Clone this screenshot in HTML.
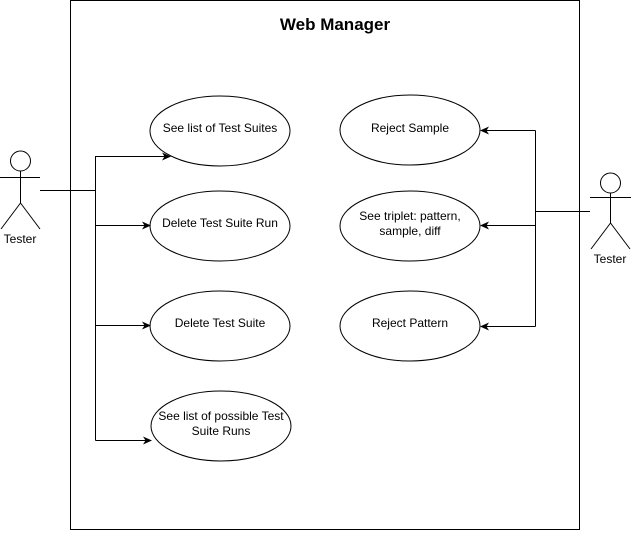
<!DOCTYPE html>
<html><head><meta charset="utf-8"><style>
html,body{margin:0;padding:0;background:#fff;}
svg{display:block;}
text{font-family:"Liberation Sans",Arial,sans-serif;font-size:12px;fill:#000;}
</style></head><body>
<svg width="632" height="534" viewBox="0 0 632 534" xmlns="http://www.w3.org/2000/svg">
<defs>
<marker id="a" markerWidth="10" markerHeight="10" refX="8" refY="4" orient="auto" markerUnits="userSpaceOnUse">
<path d="M0,0 L9,4 L0,8 L2.5,4 Z" fill="#000"/>
</marker>
</defs>
<rect x="70.5" y="0.5" width="509" height="529" fill="#fff" stroke="#000"/>
<text x="335" y="30" text-anchor="middle" style="font-size:17px;font-weight:bold">Web Manager</text>

<g fill="#fff" stroke="#000" stroke-width="1">
<ellipse cx="220" cy="131" rx="70" ry="35"/>
<ellipse cx="220" cy="226" rx="70" ry="35"/>
<ellipse cx="220" cy="326" rx="70" ry="35"/>
<ellipse cx="221" cy="426" rx="70" ry="35"/>
<ellipse cx="410" cy="130" rx="70" ry="35"/>
<ellipse cx="410" cy="226" rx="70" ry="35"/>
<ellipse cx="410" cy="326" rx="70" ry="35"/>
</g>
<text x="220" y="132" text-anchor="middle">See list of Test Suites</text>
<text x="220" y="227" text-anchor="middle">Delete Test Suite Run</text>
<text x="220" y="327" text-anchor="middle">Delete Test Suite</text>
<text x="221" y="420" text-anchor="middle">See list of possible Test</text>
<text x="221" y="435" text-anchor="middle">Suite Runs</text>
<text x="410" y="132" text-anchor="middle">Reject Sample</text>
<text x="410" y="220" text-anchor="middle">See triplet: pattern,</text>
<text x="410" y="235" text-anchor="middle">sample, diff</text>
<text x="410" y="327" text-anchor="middle">Reject Pattern</text>

<g stroke="#000" stroke-width="1" fill="none">
<path d="M40 190.5 H95.5 M95.5 156 V440.5"/>
<path d="M95.5 156.5 H170" marker-end="url(#a)"/>
<path d="M95.5 225.5 H150" marker-end="url(#a)"/>
<path d="M95.5 325.5 H150" marker-end="url(#a)"/>
<path d="M95.5 440.5 H151" marker-end="url(#a)"/>
<path d="M590 211.5 H535.5 M535.5 130.5 V326.5"/>
<path d="M535.5 130.5 H481" marker-end="url(#a)"/>
<path d="M535.5 225.5 H481" marker-end="url(#a)"/>
<path d="M535.5 326.5 H481" marker-end="url(#a)"/>
<!-- left actor -->
<circle cx="20.5" cy="161" r="10" fill="#fff"/>
<path d="M20.5 171 V203 M0 177.5 H40 M20.5 203 L1 229 M20.5 203 L40 229"/>
<!-- right actor -->
<circle cx="610.5" cy="183" r="10" fill="#fff"/>
<path d="M610.5 193 V223 M590 197.5 H631 M610.5 223 L591 249 M610.5 223 L630 249"/>
</g>
<text x="20" y="243" text-anchor="middle">Tester</text>
<text x="610" y="263" text-anchor="middle">Tester</text>
</svg>
</body></html>
